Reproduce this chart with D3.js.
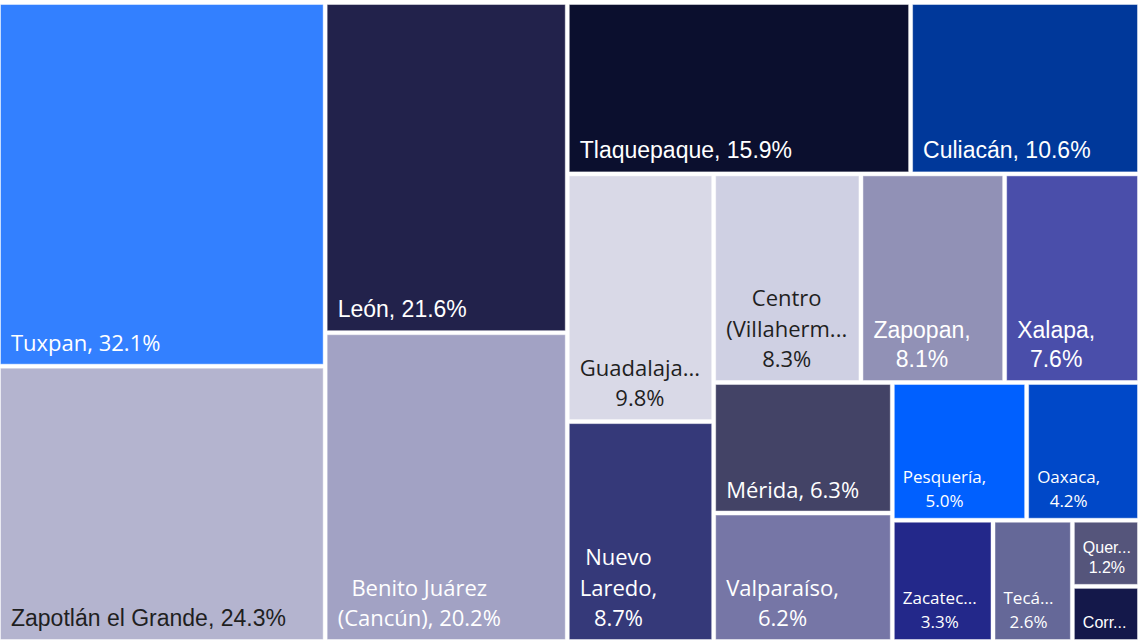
<!DOCTYPE html>
<html>
<head>
<meta charset="utf-8">
<script src="https://cdn.jsdelivr.net/npm/d3@7"></script>
<style>
  html, body { margin: 0; padding: 0; background: #fff; }
  svg { display: block; }
</style>
</head>
<body>
<svg id="chart" width="1138" height="641"></svg>
<script>
const names = [
  "Tuxpan", "Zapotlán el Grande", "León", "Benito Juárez (Cancún)", "Tlaquepaque",
  "Culiacán", "Guadalajara", "Nuevo Laredo", "Centro (Villahermosa)", "Zapopan",
  "Xalapa", "Mérida", "Valparaíso", "Pesquería", "Oaxaca",
  "Zacatecas", "Tecámac", "Querétaro", "Corregidora"
];
const values = [
  32.1, 24.3, 21.6, 20.2, 15.9,
  10.6, 9.8, 8.7, 8.3, 8.1,
  7.6, 6.3, 6.2, 5.0, 4.2,
  3.3, 2.6, 1.2, 1.0
];
const colors = [
  "#3380ff", "#b4b4cf", "#22224b", "#a2a2c4", "#0b0f2e",
  "#00389a", "#d9d9e7", "#353979", "#cfd0e3", "#9191b6",
  "#4a4eaa", "#434366", "#7676a6", "#0060ff", "#0048c8",
  "#23288a", "#656898", "#55557b", "#14184a"
];
// how many tiles go in each strip of the squarified layout (as in the original)
const stripSizes = [2, 2, 2, 2, 3, 2, 2, 1, 1, 1, 1];
// labels that render in the Arial-like face in the original
const arialLike = new Set(["Zapotlán el Grande", "León", "Tlaquepaque", "Culiacán", "Zapopan", "Xalapa", "Querétaro", "Corregidora"]);

const svg = d3.select("#chart");
const width = 1138, height = 641;
const offsetTop = 4;

const data = names.map((name, i) => ({ name, value: values[i], color: colors[i] }));

const root = d3.hierarchy({ children: data })
  .sum(d => d.value || 0)
  .sort((a, b) => b.value - a.value);

// squarify-style tiling: strips laid along the shorter side, fixed strip sizes
function stripTile(parent, x0, y0, x1, y1) {
  const nodes = parent.children;
  let value = parent.value;
  let i = 0;
  for (const n of stripSizes) {
    if (i >= nodes.length) break;
    const row = nodes.slice(i, i + n);
    i += n;
    const rv = d3.sum(row, d => d.value);
    const strip = { children: row, value: rv };
    const dx = x1 - x0, dy = y1 - y0;
    if (dx < dy) {
      const yy = i >= nodes.length ? y1 : y0 + dy * rv / value;
      d3.treemapDice(strip, x0, y0, x1, yy);
      y0 = yy;
    } else {
      const xx = i >= nodes.length ? x1 : x0 + dx * rv / value;
      d3.treemapSlice(strip, x0, y0, xx, y1);
      x0 = xx;
    }
    value -= rv;
  }
}

d3.treemap()
  .tile(stripTile)
  .size([width, height - offsetTop - 1])
  .paddingInner(3)
  .round(false)(root);

const ctx = document.createElement("canvas").getContext("2d");
const fontFor = d => arialLike.has(d.data.name)
  ? "'Liberation Sans', Arial, sans-serif"
  : "'Open Sans', 'Noto Sans', sans-serif";

function measure(text, size, family) {
  ctx.font = `${size}px ${family}`;
  return ctx.measureText(text).width;
}

function fitWord(word, max, size, family) {
  if (measure(word, size, family) <= max) return word;
  let s = word;
  while (s.length > 1 && measure(s + "...", size, family) > max) s = s.slice(0, -1);
  return s + "...";
}

function wrap(text, max, size, family) {
  const words = text.split(" ");
  const lines = [];
  let cur = "";
  words.forEach(w => {
    const test = cur ? cur + " " + w : w;
    if (measure(test, size, family) <= max) {
      cur = test;
    } else {
      if (cur) lines.push(cur);
      cur = fitWord(w, max, size, family);
    }
  });
  if (cur) lines.push(cur);
  return lines;
}

function textColor(c) {
  const { r, g, b } = d3.rgb(c);
  const lum = (0.299 * r + 0.587 * g + 0.114 * b) / 255;
  return lum > 0.7 ? "#1f1f1f" : "#ffffff";
}

const cell = svg.append("g")
  .attr("transform", `translate(0,${offsetTop})`)
  .selectAll("g")
  .data(root.leaves())
  .join("g");

cell.append("rect")
  .attr("x", d => d.x0 + 0.5)
  .attr("y", d => d.y0 + 0.5)
  .attr("width", d => Math.max(0, d.x1 - d.x0 - 1))
  .attr("height", d => Math.max(0, d.y1 - d.y0 - 1))
  .attr("fill", d => d.data.color)
  .attr("stroke", "rgba(255,255,255,0.45)")
  .attr("stroke-width", 1);

cell.each(function (d) {
  const w = d.x1 - d.x0, h = d.y1 - d.y0;
  const big = w * h > 20000;
  const family = fontFor(d);
  const arial = arialLike.has(d.data.name);
  const size = big ? (arial ? 23 : 22) : (arial ? 16 : 17);
  const pad = big ? 11 : 9;
  const avail = w - 2 * pad + (!big && arial ? 3 : 0);
  const lh = size * (arial ? 1.25 : 1.4);
  let lines = wrap(`${d.data.name}, ${d.data.value.toFixed(1)}%`, avail, size, family);
  const maxLines = Math.max(1, Math.floor((h - 16) / lh));
  lines = lines.slice(0, maxLines);
  const blockW = d3.max(lines, l => measure(l, size, family));
  const cx = d.x0 + pad + blockW / 2;
  const lastBase = d.y1 - 0.3 * size - 7;

  d3.select(this).append("text")
    .attr("font-family", family)
    .attr("font-size", size)
    .attr("fill", textColor(d.data.color))
    .attr("text-anchor", "middle")
    .selectAll("tspan")
    .data(lines)
    .join("tspan")
    .attr("x", cx)
    .attr("y", (l, i) => lastBase - (lines.length - 1 - i) * lh)
    .text(l => l);
});
</script>
</body>
</html>
